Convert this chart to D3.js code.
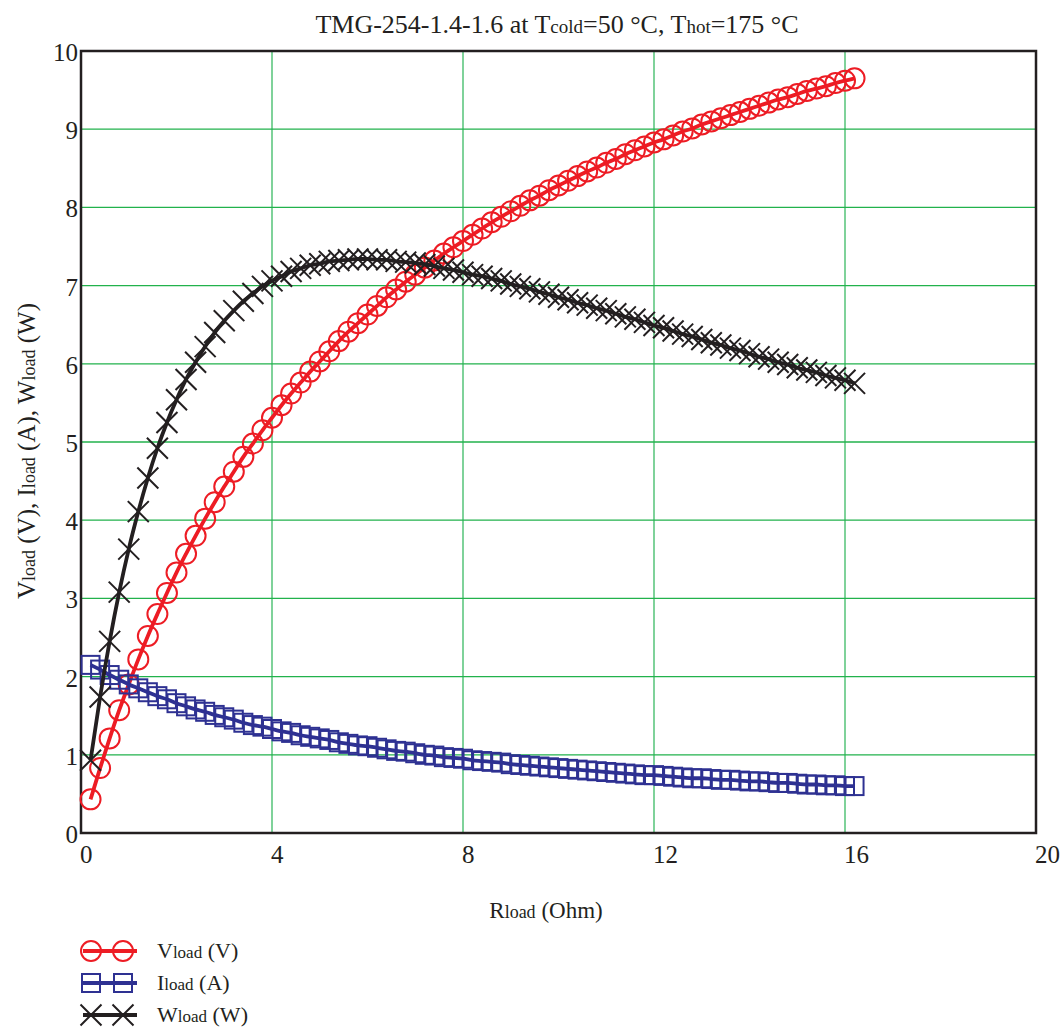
<!DOCTYPE html>
<html>
<head>
<meta charset="utf-8">
<script src="https://cdn.jsdelivr.net/npm/d3@7"></script>
<style>
  body { margin: 0; background: #fff; }
</style>
</head>
<body>
<div id="chart"></div>
<script>
// load resistance (Ohm)
const rLoad = [0.2, 0.4, 0.6, 0.8, 1.0, 1.2, 1.4, 1.6, 1.8, 2.0,
  2.2, 2.4, 2.6, 2.8, 3.0, 3.2, 3.4, 3.6, 3.8, 4.0,
  4.2, 4.4, 4.6, 4.8, 5.0, 5.2, 5.4, 5.6, 5.8, 6.0,
  6.2, 6.4, 6.6, 6.8, 7.0, 7.2, 7.4, 7.6, 7.8, 8.0,
  8.2, 8.4, 8.6, 8.8, 9.0, 9.2, 9.4, 9.6, 9.8, 10.0,
  10.2, 10.4, 10.6, 10.8, 11.0, 11.2, 11.4, 11.6, 11.8, 12.0,
  12.2, 12.4, 12.6, 12.8, 13.0, 13.2, 13.4, 13.6, 13.8, 14.0,
  14.2, 14.4, 14.6, 14.8, 15.0, 15.2, 15.4, 15.6, 15.8, 16.0, 16.2]

const vLoad = [0.43, 0.83, 1.21, 1.57, 1.90, 2.22, 2.52, 2.80, 3.07, 3.33,
  3.57, 3.80, 4.02, 4.23, 4.43, 4.62, 4.81, 4.98, 5.15, 5.31,
  5.47, 5.62, 5.76, 5.90, 6.03, 6.16, 6.29, 6.41, 6.52, 6.63,
  6.74, 6.85, 6.95, 7.05, 7.14, 7.23, 7.32, 7.41, 7.49, 7.57,
  7.65, 7.73, 7.81, 7.88, 7.95, 8.02, 8.09, 8.15, 8.22, 8.28,
  8.34, 8.40, 8.46, 8.51, 8.57, 8.62, 8.68, 8.73, 8.78, 8.83,
  8.87, 8.92, 8.97, 9.01, 9.06, 9.10, 9.14, 9.18, 9.22, 9.26,
  9.30, 9.34, 9.38, 9.41, 9.45, 9.49, 9.52, 9.55, 9.59, 9.62, 9.65]

const iLoad = [2.15, 2.09, 2.02, 1.96, 1.90, 1.85, 1.80, 1.75, 1.71, 1.66,
  1.62, 1.58, 1.55, 1.51, 1.48, 1.45, 1.41, 1.38, 1.36, 1.33,
  1.30, 1.28, 1.25, 1.23, 1.21, 1.19, 1.16, 1.14, 1.12, 1.11,
  1.09, 1.07, 1.05, 1.04, 1.02, 1.00, 0.99, 0.97, 0.96, 0.95,
  0.93, 0.92, 0.91, 0.90, 0.88, 0.87, 0.86, 0.85, 0.84, 0.83,
  0.82, 0.81, 0.80, 0.79, 0.78, 0.77, 0.76, 0.75, 0.74, 0.74,
  0.73, 0.72, 0.71, 0.70, 0.70, 0.69, 0.68, 0.68, 0.67, 0.66,
  0.66, 0.65, 0.64, 0.64, 0.63, 0.62, 0.62, 0.61, 0.61, 0.60, 0.60]

const wLoad = [0.93, 1.74, 2.45, 3.08, 3.63, 4.11, 4.54, 4.92, 5.25, 5.54,
  5.80, 6.02, 6.22, 6.40, 6.55, 6.68, 6.80, 6.90, 6.99, 7.06,
  7.12, 7.18, 7.22, 7.26, 7.28, 7.31, 7.32, 7.33, 7.34, 7.34,
  7.33, 7.33, 7.31, 7.30, 7.29, 7.27, 7.25, 7.22, 7.20, 7.17,
  7.14, 7.12, 7.09, 7.06, 7.02, 6.99, 6.96, 6.92, 6.89, 6.85,
  6.82, 6.78, 6.75, 6.71, 6.68, 6.64, 6.60, 6.57, 6.53, 6.49,
  6.46, 6.42, 6.38, 6.35, 6.31, 6.27, 6.24, 6.20, 6.17, 6.13,
  6.09, 6.06, 6.02, 5.99, 5.95, 5.92, 5.89, 5.85, 5.82, 5.79, 5.75]

const xTicks = [0, 4, 8, 12, 16, 20]
const yTicks = [0, 1, 2, 3, 4, 5, 6, 7, 8, 9, 10]

const series = [
  {name: "V", unit: "(V)", values: vLoad, color: "#ed1c24", marker: "circle"},
  {name: "I", unit: "(A)", values: iLoad, color: "#2e3192", marker: "square"},
  {name: "W", unit: "(W)", values: wLoad, color: "#231f20", marker: "cross"}
]

const width = 1061, height = 1030
const margin = {left: 81, right: 25, top: 51, bottom: 197}
const serif = "'Liberation Serif', 'Times New Roman', Times, serif"

const svg = d3.select("#chart").append("svg")
  .attr("width", width)
  .attr("height", height)
  .attr("font-family", serif)
  .style("font-family", serif)

const x = d3.scaleLinear().domain([0, 20]).range([margin.left, width - margin.right])
const y = d3.scaleLinear().domain([0, 10]).range([height - margin.bottom, margin.top])

// grid
svg.append("g").selectAll("line")
  .data(xTicks.slice(1, -1))
  .join("line")
  .attr("x1", d => x(d)).attr("x2", d => x(d))
  .attr("y1", y(0)).attr("y2", y(10))
  .attr("stroke", "#7fd29a")
  .attr("stroke-width", 2)

svg.append("g").selectAll("line")
  .data(yTicks.slice(1, -1))
  .join("line")
  .attr("x1", x(0)).attr("x2", x(20))
  .attr("y1", d => y(d)).attr("y2", d => y(d))
  .attr("stroke", "#22b24c")
  .attr("stroke-width", 1.3)

// frame
svg.append("rect")
  .attr("x", x(0)).attr("y", y(10))
  .attr("width", x(20) - x(0)).attr("height", y(0) - y(10))
  .attr("fill", "none")
  .attr("stroke", "#231f20")
  .attr("stroke-width", 2.5)

// tick labels
svg.append("g").selectAll("text")
  .data(yTicks)
  .join("text")
  .attr("x", x(0) - 3)
  .attr("y", d => y(d) + 10)
  .attr("text-anchor", "end")
  .attr("fill", "#231f20")
  .style("font-size", "25px")
  .text(d => d)

svg.append("g").selectAll("text")
  .data(xTicks)
  .join("text")
  .attr("x", d => x(d) - 1)
  .attr("y", y(0) + 30)
  .attr("text-anchor", "start")
  .attr("fill", "#231f20")
  .style("font-size", "25px")
  .text(d => d)

function drawMarker(g, type, color) {
  if (type === "circle") {
    g.append("circle").attr("r", 10)
      .attr("fill", "none").attr("stroke", color).attr("stroke-width", 2)
  } else if (type === "square") {
    g.append("rect").attr("x", -9).attr("y", -9).attr("width", 18).attr("height", 18)
      .attr("fill", "none").attr("stroke", color).attr("stroke-width", 2)
  } else {
    g.append("path").attr("d", "M-10.5,-10.5L10.5,10.5M-10.5,10.5L10.5,-10.5")
      .attr("fill", "none").attr("stroke", color).attr("stroke-width", 2)
  }
}

const line = d3.line().curve(d3.curveMonotoneX)

series.forEach(s => {
  let pts = rLoad.map((r, i) => [x(r), y(s.values[i])])
  svg.append("path")
    .attr("d", line(pts))
    .attr("fill", "none")
    .attr("stroke", s.color)
    .attr("stroke-width", 3.8)
  svg.append("g").selectAll("g")
    .data(pts)
    .join("g")
    .attr("transform", d => `translate(${d[0]},${d[1]})`)
    .each(function() { drawMarker(d3.select(this), s.marker, s.color) })
})

function subText(sel, parts, big, small) {
  sel.style("font-size", big + "px")
  parts.forEach(p => {
    sel.append("tspan").style("font-size", p[1] ? small + "px" : null).text(p[0])
  })
  return sel
}

// title
subText(svg.append("text")
  .attr("x", 557).attr("y", 33)
  .attr("text-anchor", "middle")
  .attr("fill", "#231f20"),
  [["TMG-254-1.4-1.6 at T"], ["cold", 1], ["=50 °C, T"], ["hot", 1], ["=175 °C"]], 26, 19)

// axis labels
subText(svg.append("text")
  .attr("x", 546).attr("y", 918)
  .attr("text-anchor", "middle")
  .attr("fill", "#231f20"),
  [["R"], ["load", 1], [" (Ohm)"]], 23, 18)

let yParts = []
series.forEach((s, i) => {
  yParts.push([s.name], ["load", 1], [" " + s.unit + (i < series.length - 1 ? ", " : "")])
})
subText(svg.append("text")
  .attr("transform", "translate(35,451) rotate(-90)")
  .attr("text-anchor", "middle")
  .attr("fill", "#231f20"), yParts, 25, 18)

// legend
series.forEach((s, i) => {
  let ly = 951 + i * 32
  let lg = svg.append("g")
  lg.append("line")
    .attr("x1", 83).attr("x2", 137)
    .attr("y1", ly).attr("y2", ly)
    .attr("stroke", s.color).attr("stroke-width", 3.8)
  ;[91, 123].forEach(mx => {
    drawMarker(lg.append("g").attr("transform", `translate(${mx},${ly})`), s.marker, s.color)
  })
  subText(lg.append("text")
    .attr("x", 157).attr("y", ly + 7)
    .attr("fill", "#231f20"),
    [[s.name], ["load", 1], [" " + s.unit]], 22, 17)
})
</script>
</body>
</html>
